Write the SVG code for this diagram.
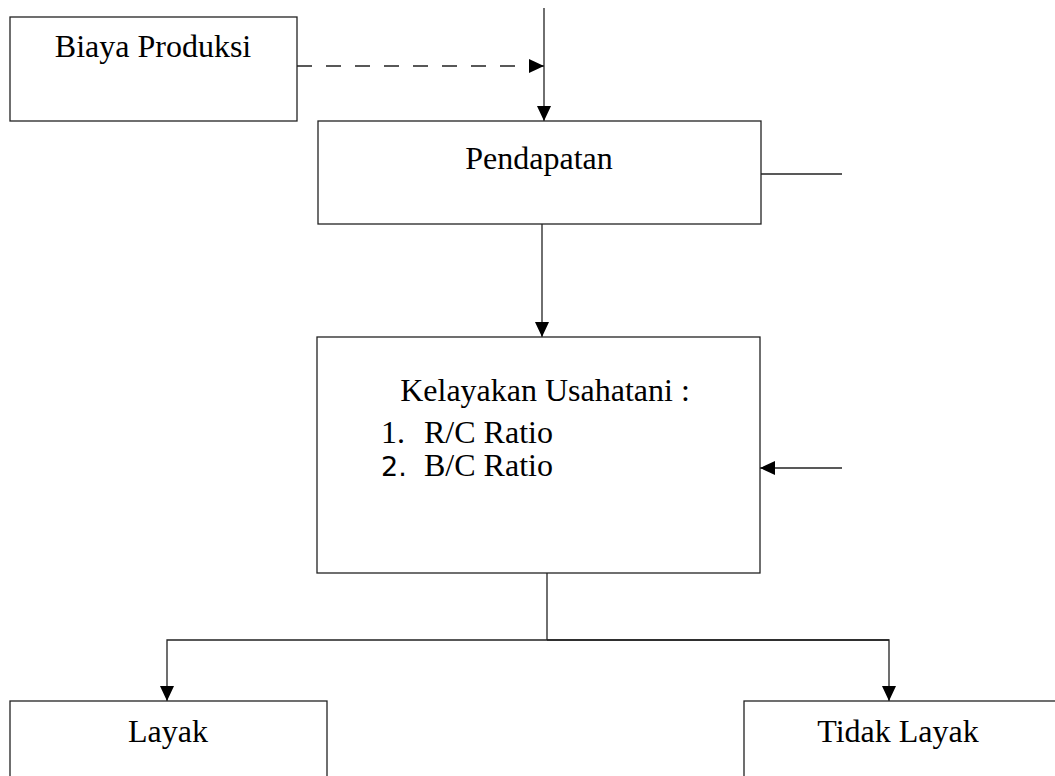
<svg xmlns="http://www.w3.org/2000/svg" width="1055" height="776" viewBox="0 0 1055 776">
<style>
.box{fill:#fff;stroke:#222;stroke-width:1.3}
.ln{fill:none;stroke:#222;stroke-width:1.3}
.t{font-family:"Liberation Serif","Times New Roman",serif;font-size:32px;fill:#000}
.s{font-family:"DejaVu Sans","Liberation Sans",sans-serif;font-size:27px;fill:#000}
</style>
<defs>
<marker id="ah" markerUnits="userSpaceOnUse" markerWidth="16" markerHeight="14" refX="15" refY="7" orient="auto">
<path d="M0,0 L15,7 L0,14 Z" fill="#000"/>
</marker>
</defs>
<rect width="1055" height="776" fill="#fff"/>
<g id="connectors">
<line class="ln" x1="297" y1="66" x2="544" y2="66" stroke-dasharray="15,14" marker-end="url(#ah)"/>
<line class="ln" x1="544" y1="8" x2="544" y2="121" marker-end="url(#ah)"/>
<line class="ln" x1="761" y1="174" x2="842" y2="174"/>
<line class="ln" x1="542" y1="224" x2="542" y2="337" marker-end="url(#ah)"/>
<line class="ln" x1="842" y1="468" x2="760" y2="468" marker-end="url(#ah)"/>
<polyline class="ln" points="547,573 547,640"/>
<polyline class="ln" points="889,640 167,640 167,701" marker-end="url(#ah)"/>
<polyline class="ln" points="547,640 889,640 889,701" marker-end="url(#ah)"/>
</g>
<g id="biaya">
<rect class="box" x="10" y="17" width="287" height="104"/>
<text class="t" x="153" y="57" text-anchor="middle">Biaya Produksi</text>
</g>
<g id="pendapatan">
<rect class="box" x="318" y="121" width="443" height="103"/>
<text class="t" x="539" y="169" text-anchor="middle">Pendapatan</text>
</g>
<g id="kelayakan">
<rect class="box" x="317" y="337" width="443" height="236"/>
<text class="t" x="545" y="401" text-anchor="middle">Kelayakan Usahatani :</text>
<text class="t" x="381" y="443">1.</text>
<text class="t" x="424" y="443">R/C Ratio</text>
<text class="s" x="381" y="476">2.</text>
<text class="t" x="424" y="476">B/C Ratio</text>
</g>
<g id="layak">
<rect class="box" x="10" y="701" width="317" height="90"/>
<text class="t" x="168" y="742" text-anchor="middle">Layak</text>
</g>
<g id="tidak-layak">
<rect class="box" x="744" y="701" width="330" height="90"/>
<text class="t" x="898" y="742" text-anchor="middle">Tidak Layak</text>
</g>
</svg>
